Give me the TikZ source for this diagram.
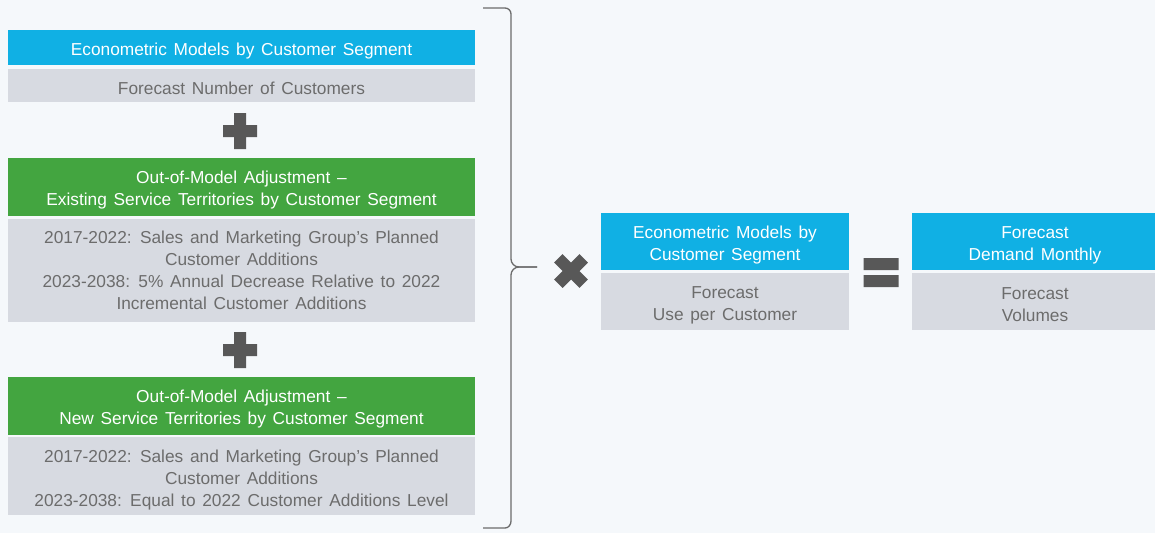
\documentclass[tikz,border=0pt]{standalone}
\usepackage{fontspec}
\setmainfont[WordSpace=1.4]{Liberation Sans}
\definecolor{segblue}{HTML}{10B0E4}
\definecolor{adjgreen}{HTML}{43A540}
\definecolor{boxgray}{HTML}{D7DAE1}
\definecolor{textgray}{HTML}{6C6C6C}
\definecolor{signgray}{HTML}{585858}
\definecolor{pagebg}{HTML}{F5F8FB}

\tikzset{
  box/.style={inner sep=0, align=center, font=\fontsize{17.3}{22}\selectfont},
  bluebox/.style={box, fill=segblue, text=white},
  greenbox/.style={box, fill=adjgreen, text=white},
  graybox/.style={box, fill=boxgray, text=textgray},
  sign/.style={fill=signgray},
  bracket/.style={draw=textgray, line width=1.3pt}
}

\begin{document}
\begin{tikzpicture}[x=1pt, y=-1pt]
  \fill[pagebg] (0,0) rectangle (1155,533);
  \useasboundingbox (0,0) rectangle (1155,533);

  % left column
  \node[bluebox, minimum width=467pt, minimum height=35pt, text height=18.6pt]
    (seg) at (241.5, 47.5) {Econometric Models by Customer Segment};
  \node[graybox, minimum width=467pt, minimum height=33pt, text height=17.6pt]
    (count) at (241.5, 85.5) {Forecast Number of Customers};

  \node[inner sep=0, minimum size=0] (plusA) at (240, 131) {};

  \node[greenbox, minimum width=467pt, minimum height=58pt, text height=40.6pt]
    (exist) at (241.5, 187) {Out-of-Model Adjustment --\\Existing Service Territories by Customer Segment};
  \node[graybox, minimum width=467pt, minimum height=103pt]
    (existrule) at (241.5, 270.5)
    {2017-2022: Sales and Marketing Group's Planned\\Customer Additions\\
     2023-2038: 5\% Annual Decrease Relative to 2022\\Incremental Customer Additions};

  \node[inner sep=0, minimum size=0] (plusB) at (240, 350) {};

  \node[greenbox, minimum width=467pt, minimum height=58pt, text height=40.6pt]
    (new) at (241.5, 406) {Out-of-Model Adjustment --\\New Service Territories by Customer Segment};
  \node[graybox, minimum width=467pt, minimum height=78pt, text height=64.6pt]
    (newrule) at (241.5, 476)
    {2017-2022: Sales and Marketing Group's Planned\\Customer Additions\\
     2023-2038: Equal to 2022 Customer Additions Level};

  % plus signs
  \foreach \p in {plusA, plusB}
    \fill[sign, shift={(\p)}] (-17,-6) rectangle (17,6) (-6,-18) rectangle (6,18);

  % brace round the left column
  \coordinate (btop) at (483, 8);
  \coordinate (bbot) at (483, 528);
  \coordinate (tip) at (537, 267);
  \draw[bracket]
    (btop) -- (505, 8) to[out=0, in=90] (511, 14)
    -- (511, 259) to[out=-90, in=180] (519, 267) -- (tip);
  \draw[bracket]
    (tip) -- (519, 267) to[out=180, in=90] (511, 275)
    -- (511, 521) to[out=-90, in=0] (505, 528) -- (bbot);

  % times sign
  \node[inner sep=0, minimum size=0] (times) at (571, 271) {};
  \fill[sign, shift={(times)}, rotate=45]
    (-18,-6) rectangle (18,6) (-6,-18) rectangle (6,18);

  % usage per customer
  \node[bluebox, minimum width=248pt, minimum height=57pt, text height=40.6pt]
    (use) at (725, 241.5) {Econometric Models by\\Customer Segment};
  \node[graybox, minimum width=248pt, minimum height=57pt, text height=40.6pt]
    (usevol) at (725, 301.5) {Forecast\\Use per Customer};

  % equals sign
  \node[inner sep=0, minimum size=0] (equals) at (881, 272.5) {};
  \fill[sign, shift={(equals)}]
    (-17.5,-14.5) rectangle (17.5,-2.5) (-17.5,2.5) rectangle (17.5,14.5);

  % result
  \node[bluebox, minimum width=246pt, minimum height=57pt, text height=40.6pt]
    (demand) at (1035, 241.5) {Forecast\\Demand Monthly};
  \node[graybox, minimum width=246pt, minimum height=57pt, text height=40.6pt]
    (volumes) at (1035, 301.5) {Forecast\\Volumes};
\end{tikzpicture}
\end{document}
